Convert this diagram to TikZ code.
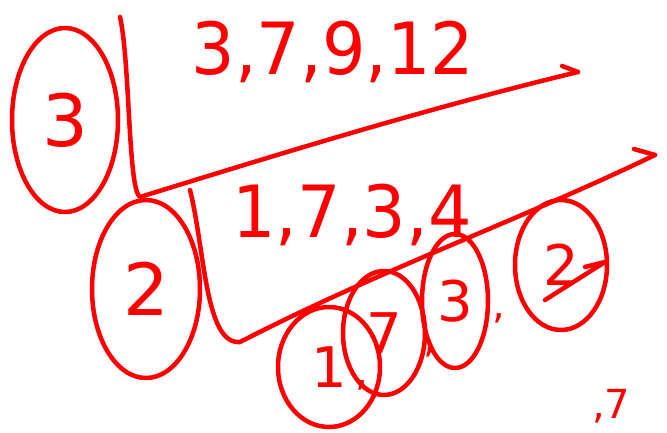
\documentclass[tikz,border=0pt]{standalone}
\usepackage{fontspec}
\setmainfont{DejaVu Sans}
\usetikzlibrary{shapes.geometric}
\definecolor{ink}{RGB}{255,0,0}
\tikzset{
  pen/.style={draw=ink, line width=4.5pt, line cap=round, line join=round},
  bubble/.style={ellipse, pen, inner sep=0pt, text=ink},
  big/.style={font=\fontsize{72}{72}\selectfont},
  mid/.style={font=\fontsize{56}{56}\selectfont},
  small/.style={font=\fontsize{40}{40}\selectfont},
  label/.style={text=ink, inner sep=0pt},
}
\begin{document}
\begin{tikzpicture}[x=1pt,y=-1pt]
\useasboundingbox (0,0) rectangle (667,433);
% left bubbles
\node[bubble, minimum width=106pt, minimum height=184pt, big] (b3) at (65,120) {3};
\node[bubble, minimum width=108pt, minimum height=178pt, big] (b2) at (146,289) {2};
% first axis
\coordinate (t1) at (120,17);
\coordinate (c1) at (140,197);
\coordinate (e1) at (578,72);
\draw[pen] (t1) .. controls (130,60) and (128,190) .. (c1) .. controls (260,160) and (420,110) .. (e1);
\draw[pen] (562,66) -- (e1);
\node[label, big, xscale=0.95] (l1) at (333,52) {3,7,9,12};
% second axis
\coordinate (t2) at (190,190);
\coordinate (c2) at (240,342);
\coordinate (e2) at (655,155);
\draw[pen] (t2) .. controls (205,250) and (205,345) .. (c2) .. controls (380,270) and (520,220) .. (e2);
\draw[pen] (634,149) -- (e2);
\node[label, big, xscale=0.95] (l2) at (352,215) {1,7,3,4};
% small bubbles along second axis
\node[bubble, minimum width=102pt, minimum height=120pt, mid] (s1) at (329,367) {1};
\node[bubble, minimum width=82pt, minimum height=124pt, mid] (s7) at (384,333) {7};
\node[bubble, minimum width=66pt, minimum height=134pt, mid] (s3) at (455,301) {3};
\node[bubble, minimum width=92pt, minimum height=130pt, mid] (sr) at (561,265) {2};
\node[label, small, anchor=base] (k1) at (362,385) {,};
\node[label, small, anchor=base] (k2) at (430,352) {,};
\node[label, small, anchor=base] (k3) at (499,318) {,};
% arrow through last bubble
\coordinate (a0) at (545,300);
\coordinate (a1) at (605,262);
\draw[pen] (a0) -- (a1);
\draw[pen] (585,267) -- (a1);
% bottom-right fragment
\node[label, small, anchor=base west] (frag) at (592,418) {,7};
\end{tikzpicture}
\end{document}
